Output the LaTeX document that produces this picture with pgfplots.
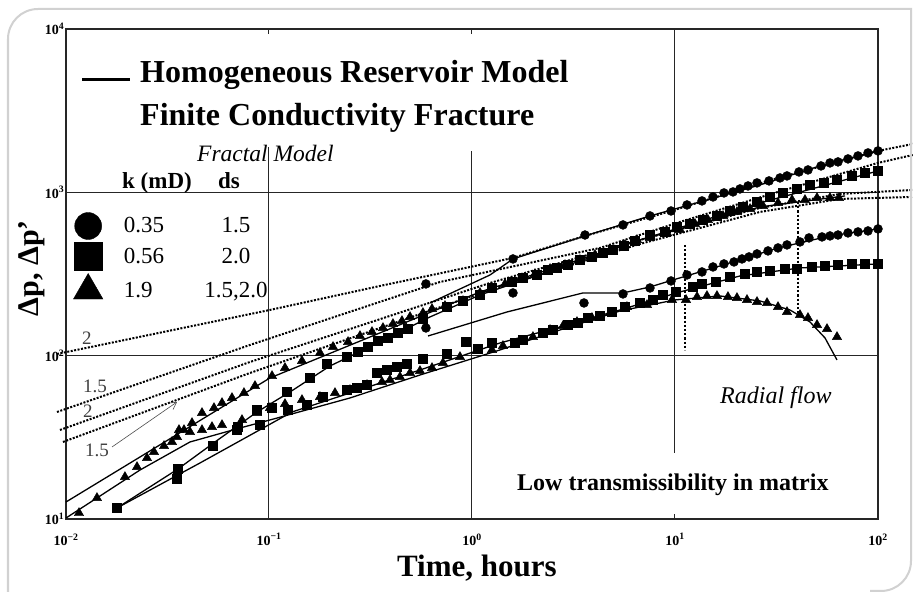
\documentclass[border=0pt]{standalone}
\usepackage{pgfplots}
\pgfplotsset{compat=1.18}
\usepackage{fontspec}
\setmainfont{Liberation Serif}
\usetikzlibrary{arrows.meta}
\newcommand{\fs}[1]{\fontsize{#1bp}{#1bp}\selectfont}

\begin{document}
\begin{tikzpicture}
\path[use as bounding box] (0,0) rectangle (913bp,592bp);
\begin{axis}[
  at={(66bp,73bp)}, anchor=south west,
  scale only axis, width=812bp, height=490bp,
  xmode=log, ymode=log,
  xmin=0.01, xmax=100, ymin=10, ymax=10000,
  clip=false,
  axis line style={line width=1.2bp, black!85},
  xtick={0.01,0.1,1,10,100},
  xticklabels={10\textsuperscript{−2},10\textsuperscript{−1},10\textsuperscript{0},10\textsuperscript{1},10\textsuperscript{2}},
  ytick={10,100,1000,10000},
  yticklabels={10\textsuperscript{1},10\textsuperscript{2},10\textsuperscript{3},10\textsuperscript{4}},
  xminorticks=false, yminorticks=false,
  major tick length=5bp,
  tick style={line width=1bp, black!85},
  ticklabel style={font=\bfseries\fs{14}},
  xticklabel style={yshift=-11bp},
  yticklabel style={inner sep=1.5bp},
  xlabel={Time, hours},
  xlabel style={font=\bfseries\fs{31}, at={(axis description cs:0.506,0)}, anchor=base, yshift=-58bp},
  ylabel={Δp, Δp’},
  ylabel style={font=\bfseries\fs{30}, at={(axis description cs:-0.042,0.512)}, anchor=center},
  legend style={at={(axis description cs:0.0092,0.6255)}, anchor=north west, draw=none, fill=none,
    inner sep=0pt, outer sep=0pt, row sep=3bp, nodes={inner sep=0pt, font=\fs{23}},
    /tikz/every odd column/.append style={column sep=21bp}},
  legend cell align=left,
]
% grid lines (partial, as in the reference)
\draw[black!85, line width=1bp] (axis cs:0.01,100) -- (axis cs:100,100);
\draw[black!85, line width=1bp] (axis cs:0.01,1000) -- (axis cs:100,1000);
\draw[black!85, line width=1bp] (axis cs:0.1,10) -- (axis cs:0.1,1897);
\draw[black!85, line width=1bp] (axis cs:1,10) -- (axis cs:1,1793);
\draw[black!85, line width=1bp] (axis cs:10,10000) -- (axis cs:10,25.4);

% fractal model (dotted)
\addplot[black, line width=2bp, dash pattern=on 2bp off 1.5bp, forget plot] coordinates {
(0.00903,102.4) (0.1011,190.5) (0.3523,267.2) (1.592,396.6) (3.603,540.8) (9.56,769) (32.17,1225) (100,1793) (148.8,1979)};
\addplot[black, line width=2bp, dash pattern=on 2bp off 1.5bp, forget plot] coordinates {
(0.00903,45.20) (0.08061,116.3) (0.6958,282.7) (1.724,359.3) (4.271,456.6) (10.58,658.5) (32.17,1006) (100,1514) (148.8,1694)};
\addplot[black, line width=2bp, dash pattern=on 2bp off 1.5bp, forget plot] coordinates {
(0.00934,35.08) (0.08061,91.5) (1.227,278.8) (6.723,511) (26.23,802.6) (65.0,977.7) (148.8,1034)};
\addplot[black, line width=2bp, dash pattern=on 2bp off 1.5bp, forget plot] coordinates {
(0.00966,29.62) (0.08061,78.36) (1.227,252.6) (6.723,483.1) (26.23,758.6) (65.0,911.1) (148.8,937)};
% vertical dotted lines
\addplot[black, line width=2.2bp, dash pattern=on 2.2bp off 2bp, forget plot] coordinates {(11.20,476.4) (11.20,108.4)};
\addplot[black, line width=2.2bp, dash pattern=on 2.2bp off 2bp, forget plot] coordinates {(40.36,873.5) (40.36,172.6)};

% homogeneous reservoir model (solid)
\addplot[black, line width=1.3bp, forget plot] coordinates {
(0.01,12.71) (0.1011,73.03) (1.095,245.5) (6.723,511.0) (26.23,814) (68.78,950.6)};
\addplot[black, line width=1.3bp, forget plot] coordinates {
(0.01,10.14) (0.01421,13.45) (0.02315,19.95) (0.04081,29.62) (0.07196,36.07) (0.1011,40.39) (0.2506,55.08) (0.5544,76.15) (1.373,108.4) (2.714,143.7) (5.359,187.8) (10.0,219.4) (16.66,232.1) (26.23,216.3) (36.85,190.5) (46.24,160.8) (54.82,128.4) (62.81,94.12)};
\addplot[black, line width=1.3bp, forget plot] coordinates {
(0.01783,11.68) (0.03562,20.24) (0.0542,29.62) (0.08727,45.20) (0.1269,59.95) (0.1998,86.48) (0.3523,121.3) (0.6211,172.6) (1.095,235.3) (2.714,344.4) (6.723,511.0) (26.23,861.1) (100,1352)};
\addplot[black, line width=1.3bp, forget plot] coordinates {
(0.01783,11.68) (0.04572,22.03) (0.1298,45.20) (0.2506,59.10) (0.5544,81.74) (1.373,119.6) (2.714,149.9) (5.359,190.5) (10.58,245.5) (20.90,307.6) (41.28,344.4) (100,364.4)};
\addplot[black, line width=1.3bp, forget plot] coordinates {
(0.6211,210.2) (1.227,312.0) (1.592,391) (3.603,540.8) (7.53,717) (13.28,873.5) (26.23,1110) (51.80,1451) (100,1793)};
\addplot[black, line width=1.3bp, forget plot] coordinates {
(0.6073,132.0) (1.488,185.2) (3.522,242.1) (5.544,242.1) (7.53,263.4) (9.774,290.8) (16.66,354.3) (32.17,456.6) (58.01,540.8) (100,596.9)};

% k = 0.35 mD (circles)
\addplot[only marks, mark=*, mark size=4.5bp, black, forget plot] coordinates {
(0.593,274.9) (1.592,391) (3.603,548) (5.544,631.6) (7.53,717) (9.56,769) (11.46,837) (13.58,886) (15.39,937) (17.43,991.6) (19.31,1006) (20.90,1049) (22.89,1094) (25.35,1142) (29.05,1175) (32.90,1225) (35.62,1260) (40.81,1333) (45.20,1371) (52.39,1451) (58.01,1514) (63.53,1536) (71.15,1602) (79.69,1671) (89.27,1743) (100,1793)
(0.593,147.8) (1.592,242.1) (3.562,210.2) (5.544,238.7) (7.53,259.7) (9.56,286.7) (11.46,312.0) (13.58,325.5) (15.39,349.3) (17.43,364.4) (19.53,374.8) (21.38,391) (23.15,402.2) (25.35,419.6) (28.72,437.7) (32.17,456.6) (35.62,476.4) (41.28,497.0) (45.72,525.9) (52.99,533.3) (58.01,540.8) (63.53,548) (71.15,564.2) (79.69,572.2) (89.27,580.3) (100,596.9)};

% k = 0.56 mD (squares)
\addplot[only marks, mark=square*, mark size=4.6bp, black, forget plot] coordinates {
(0.01783,11.68) (0.03562,20.24) (0.05298,27.99) (0.06957,35.08) (0.08727,46.50) (0.1227,59.95) (0.1592,73.03) (0.1931,88.98) (0.2422,98.2) (0.2745,105.4) (0.3074,113.1) (0.3443,123.0) (0.3857,128.4) (0.4320,137.7) (0.4838,145.7) (0.5735,167.8) (0.7530,198.7) (0.9030,216.3) (1.095,235.3) (1.254,259.7) (1.574,282.7) (1.783,299.1) (2.090,312.0) (2.368,334.8) (2.623,344.4) (2.971,359.3) (3.404,385.5) (3.900,402.2) (4.419,425.6) (4.951,444.0) (5.608,469.7) (6.353,504.0) (7.53,548) (8.927,572.2) (10.23,614.0) (11.86,640.6) (13.74,677.7) (16.10,717) (18.66,769) (21.63,814) (25.35,873.5) (29.38,937) (34.04,991.6) (39.90,1049) (46.24,1110) (54.20,1142) (62.81,1191) (74.45,1260) (86.30,1314) (100,1352)
(0.03523,17.58) (0.07036,36.59) (0.09031,37.63) (0.1035,47.83) (0.1241,46.50) (0.1539,49.89) (0.1845,55.86) (0.2422,61.66) (0.2713,63.41) (0.304,66.16) (0.3404,78.36) (0.3814,81.74) (0.4271,85.27) (0.4784,88.98) (0.5735,95.46) (0.753,102.4) (0.9342,121.3) (1.070,109.9) (1.254,119.6) (1.628,119.6) (1.783,124.8) (2.237,137.7) (2.506,143.7) (2.971,154.2) (3.328,158.6) (3.728,170.2) (4.271,175.0) (4.895,185.2) (5.672,198.7) (6.723,210.2) (7.792,219.4) (8.727,235.3) (10.11,245.5) (12.27,263.4) (13.58,274.9) (15.92,282.7) (18.66,303.3) (22.13,316.5) (25.35,325.5) (29.38,330.2) (34.83,339.6) (39.90,339.6) (47.30,349.3) (54.82,354.3) (63.53,359.3) (74.45,364.4) (86.30,364.4) (100,364.4)};

% k = 1.9 mD (triangles)
\addplot[only marks, mark=triangle*, mark size=5.4bp, black, forget plot] coordinates {
(0.01159,10.88) (0.01421,13.45) (0.01952,18.08) (0.02238,20.82) (0.02506,23.63) (0.02713,25.73) (0.0304,27.99) (0.03328,29.62) (0.03523,31.78) (0.03814,35.08) (0.04176,38.72) (0.04677,44.59) (0.05359,47.83) (0.05869,51.33) (0.06573,55.08) (0.0753,59.10) (0.08531,65.25) (0.1035,75.10) (0.1199,84.09) (0.1454,92.80) (0.1783,103.9) (0.2067,113.1) (0.2451,121.3) (0.2807,132.0) (0.3217,139.7) (0.3644,147.8) (0.4081,156.4) (0.452,163.1) (0.4951,172.6) (0.5735,182.6) (0.6353,193.2) (0.7362,201.6) (0.903,216.3) (1.095,242.1) (1.254,259.7) (1.454,274.9) (1.724,294.9) (2.043,316.5) (2.423,339.6) (2.872,359.3) (3.404,385.5) (4.036,413.8) (4.784,444.0) (5.672,476.4) (6.498,511.0) (7.53,525.9) (9.134,564.2) (10.58,588.6) (12.55,640.6) (14.54,677.7) (17.24,717) (20.20,758.6) (23.42,791.3) (27.13,825.5) (32.17,861.1) (37.71,898.3) (43.69,898.3) (50.07,924) (58.01,924) (64.26,924)
(0.03603,35.08) (0.04081,34.11) (0.04677,35.08) (0.05239,36.59) (0.05869,37.63) (0.07362,40.39) (0.08727,44.59) (0.1011,47.83) (0.1199,50.61) (0.1454,53.55) (0.1783,55.86) (0.2114,59.10) (0.2506,61.66) (0.304,66.16) (0.3603,69.01) (0.3945,71.0) (0.4419,74.06) (0.4951,78.36) (0.5544,80.6) (0.6353,84.09) (0.7196,90.22) (0.8727,98.2) (1.058,106.9) (1.254,108.4) (1.421,114.7) (1.724,121.3) (1.997,130.2) (2.423,143.7) (2.807,152.0) (3.290,160.8) (3.900,170.2) (4.784,182.6) (5.800,198.7) (7.279,204.4) (9.665,219.4) (11.33,219.4) (12.84,228.8) (14.37,232.1) (16.10,232.1) (18.24,228.8) (20.20,225.6) (22.63,219.4) (25.35,213.3) (28.40,210.2) (32.17,198.7) (35.62,185.2) (41.28,177.5) (45.20,170.2) (50.07,154.2) (56.08,145.7) (62.81,130.2)};

% legend
\addlegendimage{only marks, mark=*, mark size=13.5bp, black}
\addlegendentry{\makebox[112bp][l]{0.35}\makebox[0pt][c]{1.5}}
\addlegendimage{only marks, mark=square*, mark size=14bp, black}
\addlegendentry{\makebox[112bp][l]{0.56}\makebox[0pt][c]{2.0}}
\addlegendimage{only marks, mark=triangle*, mark size=17bp, black}
\addlegendentry{\makebox[112bp][l]{1.9}\makebox[0pt][c]{1.5,2.0}}
\end{axis}

\begin{scope}[x=1bp, y=-1bp, yshift=592bp]
\draw[black!18, line width=2bp] (8,600) -- (8,39) arc[start angle=180, end angle=270, radius=30] -- (911,9) -- (911,561) arc[start angle=0, end angle=90, radius=30] -- (870,591);
\draw[line width=3bp] (82,80) -- (130,80);
\node[anchor=base west, font=\bfseries\fs{32}, inner sep=0pt] at (140,83) {Homogeneous Reservoir Model};
\node[anchor=base west, font=\bfseries\fs{32}, inner sep=0pt] at (140,126) {Finite Conductivity Fracture};
\node[anchor=base west, font=\itshape\fs{23.5}, inner sep=0pt] at (197,162) {Fractal Model};
\node[anchor=base west, font=\bfseries\fs{23}, inner sep=0pt] at (122,189) {k (mD)};
\node[anchor=base west, font=\bfseries\fs{23}, inner sep=0pt] at (218,189) {ds};
\node[anchor=base west, font=\itshape\fs{24}, inner sep=0pt] at (720,404) {Radial flow};
\node[anchor=base west, font=\bfseries\fs{24}, inner sep=0pt] at (517,491) {Low transmissibility in matrix};
\node[anchor=base west, font=\fs{19}, text=black!75, inner sep=0pt] at (82,345) {2};
\node[anchor=base west, font=\fs{19}, text=black!75, inner sep=0pt] at (83,393) {1.5};
\node[anchor=base west, font=\fs{19}, text=black!75, inner sep=0pt] at (83,418) {2};
\node[anchor=base west, font=\fs{19}, text=black!75, inner sep=0pt] at (85,457) {1.5};
\draw[black!70, line width=0.6bp, -{Straight Barb[length=7bp, width=8bp]}] (112,447) -- (177,402);
\end{scope}
\end{tikzpicture}
\end{document}
